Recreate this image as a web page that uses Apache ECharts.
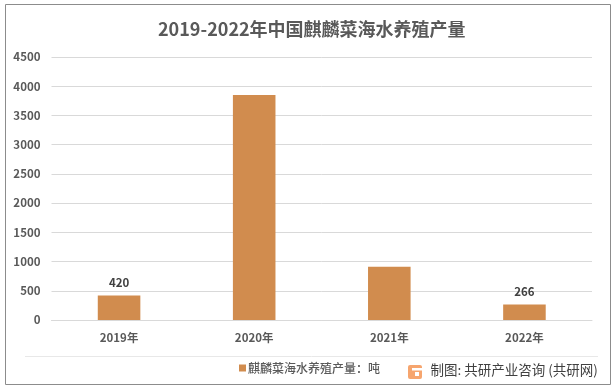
<!DOCTYPE html>
<html><head><meta charset="utf-8">
<style>html,body{margin:0;padding:0;background:#fff}#c{width:615px;height:390px}</style>
<script src="https://cdn.jsdelivr.net/npm/echarts@6/dist/echarts.min.js"></script>
</head><body><div id="c"></div>
<script>
const categories = ['2019年','2020年','2021年','2022年'];
const seriesName = '麒麟菜海水养殖产量：吨';
const values = [420, 3850, 910, 266];
const labelled = [true, false, false, true];
const titleText = '2019-2022年中国麒麟菜海水养殖产量';
const sourceText = '制图: 共研产业咨询 (共研网)';
const font = '"Noto Sans CJK SC","Noto Sans",sans-serif';
const chart = echarts.init(document.getElementById('c'), null, {renderer:'canvas'});
chart.setOption({
  animation:false,
  backgroundColor:'#fff',
  title:{text:titleText,left:153,top:15,textStyle:{fontFamily:font,fontSize:18,fontWeight:'bold',color:'#595959'}},
  grid:{left:51.5,right:23,top:57,bottom:70,containLabel:false},
  legend:{data:[seriesName],left:234,top:357,itemWidth:7,itemHeight:7,itemGap:3,icon:'rect',
    textStyle:{fontFamily:font,fontSize:12,fontWeight:500,color:'#595959',padding:[0,0,0,-3]}},
  xAxis:{type:'category',data:categories,
    axisLine:{lineStyle:{color:'#d9d9d9',width:1}},axisTick:{show:false},
    axisLabel:{margin:12,fontFamily:font,fontSize:11.5,fontWeight:'bold',color:'#595959'}},
  yAxis:{type:'value',min:0,max:4500,interval:500,
    axisLine:{show:false},axisTick:{show:false},
    splitLine:{lineStyle:{color:'#d9d9d9',width:1}},
    axisLabel:{margin:11,formatter:v=>String(v),fontFamily:font,fontSize:11.5,fontWeight:'bold',color:'#595959'}},
  series:[{name:seriesName,type:'bar',barWidth:'31.5%',
    data:values.map((v,i)=>({value:v,label:{show:labelled[i]}})),
    itemStyle:{color:'#d18c4e'},
    label:{position:'top',distance:7,fontFamily:font,fontSize:11.5,fontWeight:'bold',color:'#404040'}}],
  graphic:[
    {type:'rect',silent:true,z:-1,shape:{x:5.5,y:4.5,width:605,height:380},style:{fill:'none',stroke:'#8c8c8c',lineWidth:1}},
    {type:'line',silent:true,shape:{x1:25,y1:356.5,x2:598,y2:356.5},style:{stroke:'#e8e8e8',lineWidth:1}},
    {type:'rect',silent:true,shape:{x:408,y:365,width:14,height:14,r:2},style:{fill:'#f6a56e'}},
    {type:'rect',silent:true,shape:{x:412,y:368,width:10,height:2.5},style:{fill:'#fff'}},
    {type:'rect',silent:true,shape:{x:415,y:372,width:4,height:4},style:{fill:'#fff'}},
    {type:'text',silent:true,style:{x:430.5,y:363,text:sourceText,fontFamily:font,fontSize:13.5,fill:'#404040'}}
  ]
});
</script></body></html>
